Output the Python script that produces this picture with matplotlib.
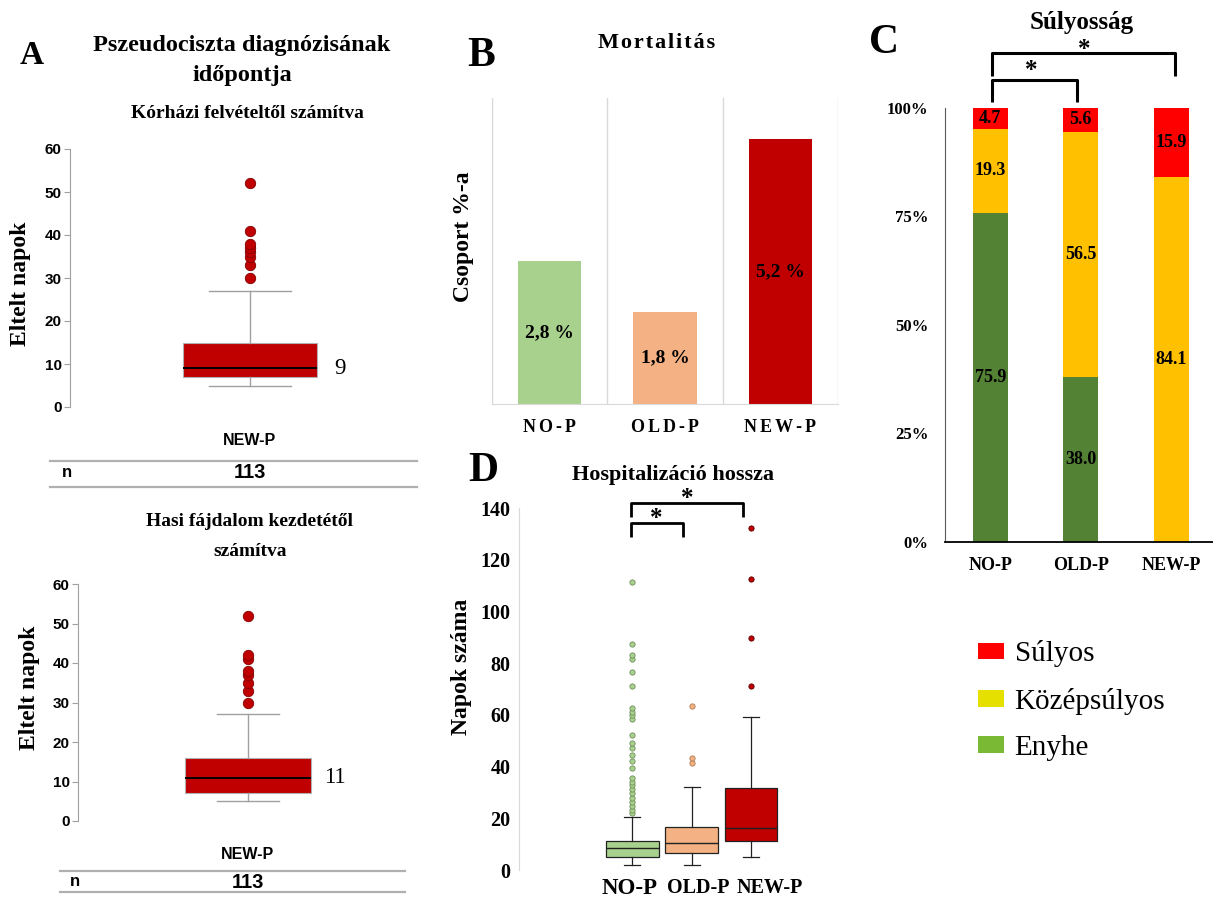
import matplotlib
matplotlib.use("Agg")
import matplotlib.pyplot as plt
from matplotlib.patches import Patch
from matplotlib.lines import Line2D

# ---------------- data ----------------
# Panel A (days until pseudocyst diagnosis, NEW-P group)
a_group = "NEW-P"
a_n = 113
a1_quartiles = [7, 9, 15]          # q1, median, q3 (from hospital admission)
a1_whiskers = [5, 27]
a1_outliers = [30, 33, 35, 36, 37, 38, 41, 52]
a2_quartiles = [7, 11, 16]         # from onset of abdominal pain
a2_whiskers = [5, 27]
a2_outliers = [30, 33, 35, 37, 38, 41, 42, 52]
a_ticks = [0, 10, 20, 30, 40, 50, 60]

# Panel B (mortality)
groups = ["NO-P", "OLD-P", "NEW-P"]
mortality = [2.8, 1.8, 5.2]
mortality_labels = ["2,8 %", "1,8 %", "5,2 %"]

# Panel C (severity, %)
sev_mild = [75.9, 38.0, 0.0]
sev_moderate = [19.3, 56.5, 84.1]
sev_severe = [4.7, 5.6, 15.9]
c_ticks = [0, 25, 50, 75, 100]
c_ticklabels = ["0%", "25%", "50%", "75%", "100%"]
legend_labels = ["Súlyos", "Középsúlyos", "Enyhe"]

# Panel D (length of hospitalisation, days)
d_q1 = [5.0, 6.4, 11.3]
d_med = [8.6, 10.3, 16.1]
d_q3 = [11.3, 16.8, 31.6]
d_whislo = [2.0, 1.9, 5.2]
d_whishi = [20.4, 32.2, 59.3]
d_outliers = [
    [22, 23.2, 24.8, 26.4, 28.0, 29.7, 31.2, 32.9, 34.2, 35.5, 39.3, 42.2, 44.5,
     47.1, 49.0, 52.2, 58.3, 59.8, 61.2, 62.8, 71.3, 76.4, 81.5, 83.2, 87.4, 111.5],
    [41.5, 43.4, 63.6],
    [71.3, 89.6, 112.5, 132.4],
]
d_ticks = [0, 20, 40, 60, 80, 100, 120, 140]

# ---------------- style ----------------
SERIF = ["Liberation Serif", "DejaVu Serif"]
SANS = ["Liberation Sans", "DejaVu Sans"]
plt.rcParams["font.family"] = SERIF

col_no = "#a9d18e"
col_old = "#f4b183"
col_new = "#c00000"
c_red = "#ff0000"
c_yel = "#ffc000"
c_grn = "#548235"
HAIR = "\u200a"

W, H = 1213, 901
def rect(x0, y0, x1, y1):
    return [x0 / W, 1 - y1 / H, (x1 - x0) / W, (y1 - y0) / H]
def fx(x):
    return x / W
def fy(y):
    return 1 - y / H

fig = plt.figure(figsize=(W / 100, H / 100), dpi=100)

# ---------------- Panel A ----------------
def panel_a(box_rect, quart, whisk, outl, median_x, cap):
    ax = fig.add_axes(rect(*box_rect))
    stats = [dict(q1=quart[0], med=quart[1], q3=quart[2],
                  whislo=whisk[0], whishi=whisk[1], fliers=outl, label=a_group)]
    ax.bxp(stats, positions=[0.5], widths=[0.373], capwidths=[cap],
           patch_artist=True,
           boxprops=dict(facecolor=col_new, edgecolor="#b0b0b0", linewidth=0.8),
           whiskerprops=dict(color="#a0a0a0", linewidth=1.0),
           capprops=dict(color="#a0a0a0", linewidth=1.0),
           medianprops=dict(color="black", linewidth=1.4),
           flierprops=dict(marker="o", markerfacecolor=col_new,
                           markeredgecolor="#800000", markersize=7.5,
                           markeredgewidth=0.6))
    ax.set_xlim(0, 1)
    ax.set_ylim(0, 60)
    for s in ["top", "right", "bottom"]:
        ax.spines[s].set_visible(False)
    ax.spines["left"].set_color("#a0a0a0")
    ax.set_yticks(a_ticks)
    ax.set_yticklabels([str(t) for t in a_ticks], family=SANS,
                       fontweight="bold", fontsize=11)
    ax.tick_params(axis="y", length=4, color="#a0a0a0", pad=2)
    ax.set_xticks([0.5])
    ax.set_xticklabels([a_group], family=SANS, fontweight="bold", fontsize=11.5)
    ax.tick_params(axis="x", length=0, pad=19)
    ax.text(median_x, quart[1], str(quart[1]), fontsize=16.5, ha="center",
            va="center")
    return ax

panel_a((70, 149, 430, 407), a1_quartiles, a1_whiskers, a1_outliers, 0.75, 0.23)
panel_a((78, 584, 418, 821), a2_quartiles, a2_whiskers, a2_outliers, 0.756, 0.18)

fig.text(fx(32), fy(55), "A", fontsize=24, fontweight="bold", ha="center", va="center")
fig.text(fx(242), fy(45), "Pszeudociszta diagnózisának", fontsize=17.5,
         fontweight="bold", ha="center", va="center")
fig.text(fx(242), fy(76), "időpontja", fontsize=17.5, fontweight="bold",
         ha="center", va="center")
fig.text(fx(247), fy(114), "Kórházi felvételtől számítva", fontsize=14,
         fontweight="bold", ha="center", va="center")
fig.text(fx(250), fy(521), "Hasi fájdalom kezdetétől", fontsize=14,
         fontweight="bold", ha="center", va="center")
fig.text(fx(250), fy(552), "számítva", fontsize=14, fontweight="bold",
         ha="center", va="center")
fig.text(fx(21), fy(284), "Eltelt napok", fontsize=17, fontweight="bold",
         rotation=90, ha="center", va="center")
fig.text(fx(29), fy(688), "Eltelt napok", fontsize=17, fontweight="bold",
         rotation=90, ha="center", va="center")

# table lines / n rows
for (xa, xb, ya, yb, ny, nx, vx) in [(50, 417, 461, 487, 473, 67, 250),
                                     (60, 405, 871, 892, 882, 75, 248)]:
    for yy in (ya, yb):
        fig.add_artist(Line2D([fx(xa), fx(xb)], [fy(yy), fy(yy)],
                              color="#b0b0b0", linewidth=1.6))
    fig.text(fx(nx), fy(ny), "n", family=SANS, fontweight="bold", fontsize=12,
             ha="center", va="center")
    fig.text(fx(vx), fy(ny), str(a_n), family=SANS, fontweight="bold",
             fontsize=14.5, ha="center", va="center")

# ---------------- Panel B ----------------
axB = fig.add_axes(rect(492, 98, 838, 404))
xb = list(range(len(groups)))
axB.bar(xb, mortality, width=0.55, color=[col_no, col_old, col_new], zorder=2)
axB.set_xlim(-0.5, 2.5)
axB.set_ylim(0, 6)
for s in ["top", "right", "left"]:
    axB.spines[s].set_visible(False)
axB.spines["bottom"].set_color("#d9d9d9")
axB.set_yticks([])
axB.set_xticks(xb)
axB.set_xticklabels([(HAIR * 2).join(g) for g in groups], fontsize=13,
                    fontweight="bold")
axB.set_xticks([-0.5, 0.5, 1.5, 2.5], minor=True)
axB.tick_params(axis="x", which="both", length=0, pad=11)
axB.grid(which="minor", axis="x", color="#d9d9d9", linewidth=1)
for x, v, lab in zip(xb, mortality, mortality_labels):
    axB.text(x, v / 2, lab, ha="center", va="center", fontsize=14,
             fontweight="bold", zorder=3)
fig.text(fx(481), fy(56), "B", fontsize=30, fontweight="bold", ha="center", va="center")
fig.text(fx(657), fy(43), HAIR.join("Mortalitás"), fontsize=16,
         fontweight="bold", ha="center", va="center")
fig.text(fx(463), fy(237), "Csoport %-a", fontsize=17, fontweight="bold",
         rotation=90, ha="center", va="center")

# ---------------- Panel C ----------------
axC = fig.add_axes(rect(945, 108, 1213, 542))
xc = list(range(len(groups)))
bw = 0.39
axC.bar(xc, sev_mild, width=bw, color=c_grn)
axC.bar(xc, sev_moderate, width=bw, bottom=sev_mild, color=c_yel)
bottom_sev = [a + b for a, b in zip(sev_mild, sev_moderate)]
axC.bar(xc, sev_severe, width=bw, bottom=bottom_sev, color=c_red)
for x in xc:
    segs = [(sev_mild[x], 0), (sev_moderate[x], sev_mild[x]),
            (sev_severe[x], bottom_sev[x])]
    for val, b in segs:
        if val > 0:
            axC.text(x, b + val / 2, f"{val:.1f}", ha="center", va="center",
                     fontsize=13, fontweight="bold")
axC.set_xlim(-0.5, 2.46)
axC.set_ylim(0, 100)
for s in ["top", "right"]:
    axC.spines[s].set_visible(False)
axC.spines["left"].set_color("#595959")
axC.spines["bottom"].set_color("black")
axC.spines["bottom"].set_linewidth(1.3)
axC.set_yticks(c_ticks)
axC.set_yticklabels(c_ticklabels, fontsize=12, fontweight="bold")
axC.set_xticks(xc)
axC.set_xticklabels(groups, fontsize=13, fontweight="bold")
axC.tick_params(axis="y", length=0, pad=12)
axC.tick_params(axis="x", length=0, pad=11)

def bracket(ax, x0, x1, ytop, ybot, sx, sy, lw, fs):
    ax.plot([x0, x0, x1, x1], [ybot, ytop, ytop, ybot], color="black",
            linewidth=lw, clip_on=False, solid_joinstyle="round",
            solid_capstyle="butt")
    ax.text(sx, sy, "*", ha="center", va="center", fontsize=fs,
            fontweight="bold", clip_on=False)

bracket(axC, 0.02, 2.04, 112.7, 107.4, 1.04, 113.5, 2.2, 18)
bracket(axC, 0.02, 0.96, 106.5, 101.3, 0.45, 108.6, 2.2, 18)
fig.text(fx(884), fy(43), "C", fontsize=30, fontweight="bold", ha="center", va="center")
fig.text(fx(1082), fy(22), "Súlyosság", fontsize=18, fontweight="bold",
         ha="center", va="center")

handles = [Patch(facecolor=c_red), Patch(facecolor="#e6e000"),
           Patch(facecolor="#7ab934")]
fig.legend(handles, legend_labels, loc="upper left",
           bbox_to_anchor=(fx(958), fy(620)), frameon=False, fontsize=21,
           handlelength=0.86, handleheight=0.51, handletextpad=0.38,
           labelspacing=0.69, borderpad=0.2)

# ---------------- Panel D ----------------
axD = fig.add_axes(rect(519, 508, 799, 870))
d_colors = [col_no, col_old, col_new]
d_edges = ["#6f8f5a", "#b07a50", "#5a0000"]
xd = list(range(len(groups)))
for i in xd:
    st = [dict(q1=d_q1[i], med=d_med[i], q3=d_q3[i], whislo=d_whislo[i],
               whishi=d_whishi[i], fliers=d_outliers[i], label=groups[i])]
    axD.bxp(st, positions=[i], widths=[0.89], capwidths=[0.27],
            patch_artist=True,
            boxprops=dict(facecolor=d_colors[i], edgecolor="#222222", linewidth=0.9),
            whiskerprops=dict(color="#222222", linewidth=0.9),
            capprops=dict(color="#222222", linewidth=0.9),
            medianprops=dict(color="#222222", linewidth=1.0),
            flierprops=dict(marker="o", markerfacecolor=d_colors[i],
                            markeredgecolor=d_edges[i], markersize=3.8,
                            markeredgewidth=0.6))
axD.set_xlim(-1.91, 2.81)
axD.set_ylim(0, 140)
for s in ["top", "right", "bottom"]:
    axD.spines[s].set_visible(False)
axD.spines["left"].set_color("#d9d9d9")
axD.set_yticks(d_ticks)
axD.set_yticklabels([str(t) for t in d_ticks], fontsize=14.5, fontweight="bold")
axD.tick_params(axis="y", length=0, pad=6)
axD.set_xticks([])
# group labels under the boxes (the reference sets them slightly off-centre)
d_label_shift = [-0.04, 0.11, 0.32]
d_label_size = [16.5, 14.5, 14.5]
for i, (g, sh, fs) in enumerate(zip(groups, d_label_shift, d_label_size)):
    axD.text(i + sh, -0.05, g, transform=axD.get_xaxis_transform(),
             ha="center", va="center", fontsize=fs, fontweight="bold")
bracket(axD, -0.03, 1.87, 141.9, 136.5, 0.92, 143.5, 2.0, 18)
bracket(axD, -0.03, 0.85, 134.2, 128.8, 0.40, 136.0, 2.0, 18)
fig.text(fx(483), fy(471), "D", fontsize=30, fontweight="bold", ha="center", va="center")
fig.text(fx(673), fy(475), "Hospitalizáció hossza", fontsize=16,
         fontweight="bold", ha="center", va="center")
fig.text(fx(462), fy(667), "Napok száma", fontsize=17, fontweight="bold",
         rotation=90, ha="center", va="center")

fig.savefig("out.png", dpi=100, facecolor="white")
